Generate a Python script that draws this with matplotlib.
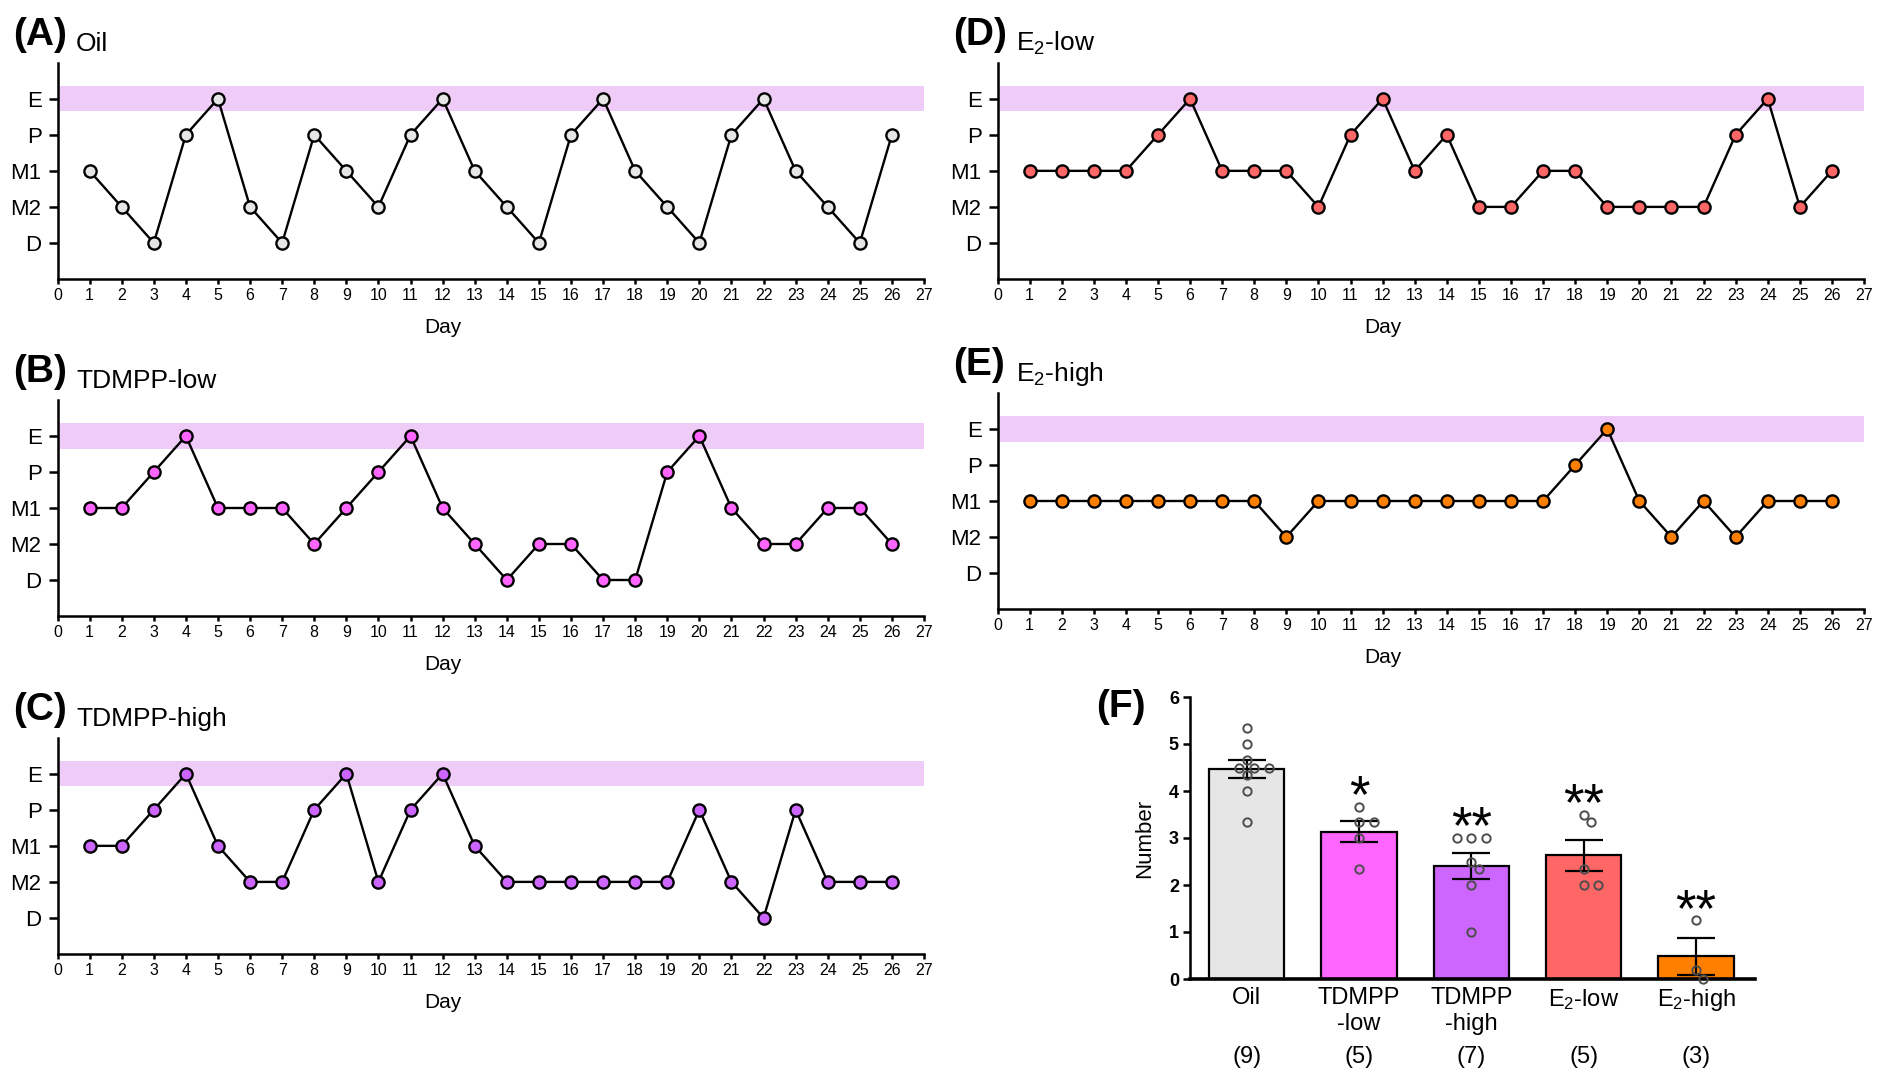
import numpy as np
import matplotlib.pyplot as plt

plt.rcParams['font.family'] = ['Liberation Sans', 'DejaVu Sans']
plt.rcParams['mathtext.fontset'] = 'custom'
plt.rcParams['mathtext.rm'] = 'Liberation Sans'
plt.rcParams['mathtext.default'] = 'regular'

# estrous stage per day, days 1..26
days = np.arange(1, 27)
stages = ['D', 'M2', 'M1', 'P', 'E']

oil_seq = "M1 M2 D P E M2 D P M1 M2 P E M1 M2 D P E M1 M2 D P E M1 M2 D P".split()
tdmpp_low_seq = "M1 M1 P E M1 M1 M1 M2 M1 P E M1 M2 D M2 M2 D D P E M1 M2 M2 M1 M1 M2".split()
tdmpp_high_seq = "M1 M1 P E M1 M2 M2 P E M2 P E M1 M2 M2 M2 M2 M2 M2 P M2 D P M2 M2 M2".split()
e2_low_seq = "M1 M1 M1 M1 P E M1 M1 M1 M2 P E M1 P M2 M2 M1 M1 M2 M2 M2 M2 P E M2 M1".split()
e2_high_seq = "M1 M1 M1 M1 M1 M1 M1 M1 M2 M1 M1 M1 M1 M1 M1 M1 M1 P E M1 M2 M1 M2 M1 M1 M1".split()

# panel F: number of cycles per animal
groups = ['Oil', 'TDMPP\n-low', 'TDMPP\n-high', 'E$_2$-low', 'E$_2$-high']
oil_pts = [5.33, 5.0, 4.67, 4.5, 4.5, 4.5, 4.33, 4.0, 3.33]
tdmpp_low_pts = [3.67, 3.33, 3.33, 3.0, 2.33]
tdmpp_high_pts = [3.0, 3.0, 3.0, 2.5, 2.33, 2.0, 1.0]
e2_low_pts = [3.5, 3.33, 2.33, 2.0, 2.0]
e2_high_pts = [1.25, 0.2, 0.0]
sig = ['', '*', '**', '**', '**']

c_oil = '#e6e6e6'
c_tl = '#ff66ff'
c_th = '#cc66ff'
c_el = '#ff6666'
c_eh = '#ff8000'
band = '#efcbf7'

W, H = 1879, 1074
fig = plt.figure(figsize=(W / 100, H / 100), dpi=100)


def rect(left, top, right, bottom):
    return [left / W, 1 - bottom / H, (right - left) / W, (bottom - top) / H]


def cycle_panel(r, label, title, seq, color):
    ax = fig.add_axes(r)
    y = [stages.index(s) + 1 for s in seq]
    ax.axhspan(4.65, 5.35, color=band, lw=0, zorder=0)
    ax.plot(days, y, color='black', lw=1.7, marker='o', ms=8.8, mfc=color,
            mec='black', mew=1.7, zorder=3, clip_on=False)
    ax.set_xlim(0, 27)
    ax.set_ylim(0, 6)
    ax.set_xticks(range(28))
    ax.set_yticks(range(1, 6))
    ax.set_yticklabels(stages)
    for s in ['top', 'right']:
        ax.spines[s].set_visible(False)
    for s in ['left', 'bottom']:
        ax.spines[s].set_linewidth(1.8)
    ax.tick_params(axis='x', labelsize=11.5, length=3.5, width=1.8, pad=3)
    ax.tick_params(axis='y', labelsize=16, length=6.5, width=1.8, pad=5)
    ax.set_xlabel('Day', fontsize=15, labelpad=11)
    ax.xaxis.label.set_x(12 / 27)
    ax.annotate(label, (0, 1), xycoords='axes fraction', xytext=(-32, 13),
                textcoords='offset points', fontsize=28, fontweight='bold',
                va='baseline', ha='left')
    ax.annotate(title, (0, 1), xycoords='axes fraction', xytext=(13.3, 8.5),
                textcoords='offset points', fontsize=19, va='baseline', ha='left')
    return ax


cycle_panel(rect(57.5, 62.7, 924, 279), '(A)', 'Oil', oil_seq, c_oil)
cycle_panel(rect(57.5, 400, 924, 616), '(B)', 'TDMPP-low', tdmpp_low_seq, c_tl)
cycle_panel(rect(57.5, 737.7, 924, 954), '(C)', 'TDMPP-high', tdmpp_high_seq, c_th)
cycle_panel(rect(997.5, 62.7, 1864, 279), '(D)', 'E$_2$-low', e2_low_seq, c_el)
cycle_panel(rect(997.5, 393, 1864, 609), '(E)', 'E$_2$-high', e2_high_seq, c_eh)

# ---- panel F ----
axf = fig.add_axes(rect(1190, 697, 1755, 979))
all_pts = [oil_pts, tdmpp_low_pts, tdmpp_high_pts, e2_low_pts, e2_high_pts]
colors = [c_oil, c_tl, c_th, c_el, c_eh]
x = np.arange(len(groups))
means = [np.mean(p) for p in all_pts]
sems = [np.std(p, ddof=1) / np.sqrt(len(p)) for p in all_pts]

axf.bar(x, means, width=0.67, color=colors, edgecolor='black', linewidth=1.6, zorder=1)
axf.errorbar(x, means, yerr=sems, fmt='none', ecolor='black', elinewidth=1.6,
             capsize=14, capthick=1.6, zorder=3)


def swarm(vals, step=0.065, d=10.5, sx=112.3, sy=47.0):
    placed = []
    for v in vals:
        k = 0
        while True:
            c = ((k + 1) // 2) * step * (1 if k % 2 else -1)
            if all(((c - px) * sx) ** 2 + ((v - py) * sy) ** 2 >= d ** 2 for px, py in placed):
                break
            k += 1
        placed.append((c, v))
    return np.array([p[0] for p in placed])


for i, pts in enumerate(all_pts):
    off = swarm(pts)
    axf.plot(i + off, pts, 'o', mfc='none', mec='#4d4d4d', ms=6, mew=1.4,
             zorder=4, clip_on=False)
    if sig[i]:
        axf.annotate(sig[i], (i, max(pts)), xytext=(0, -4), textcoords='offset points',
                     ha='center', va='baseline', fontsize=38)
    axf.text(i, -0.275, '(%d)' % len(pts), transform=axf.get_xaxis_transform(),
             ha='center', va='center', fontsize=17)

axf.set_xlim(-0.505, 4.525)
axf.set_ylim(0, 6)
axf.set_yticks(range(7))
axf.set_xticks(x)
axf.set_xticklabels(groups, fontsize=17)
for s in ['top', 'right']:
    axf.spines[s].set_visible(False)
axf.spines['left'].set_linewidth(1.8)
axf.spines['bottom'].set_linewidth(2.6)
axf.tick_params(axis='x', length=0, pad=6)
axf.tick_params(axis='y', labelsize=13, length=5, width=1.8, pad=3)
for lbl in axf.get_yticklabels():
    lbl.set_fontweight('bold')
axf.set_ylabel('Number', fontsize=16, labelpad=10)
fig.text(1096 / W, 1 - 717 / H, '(F)', fontsize=28, fontweight='bold', va='baseline')

fig.savefig('out.png', dpi=100)
